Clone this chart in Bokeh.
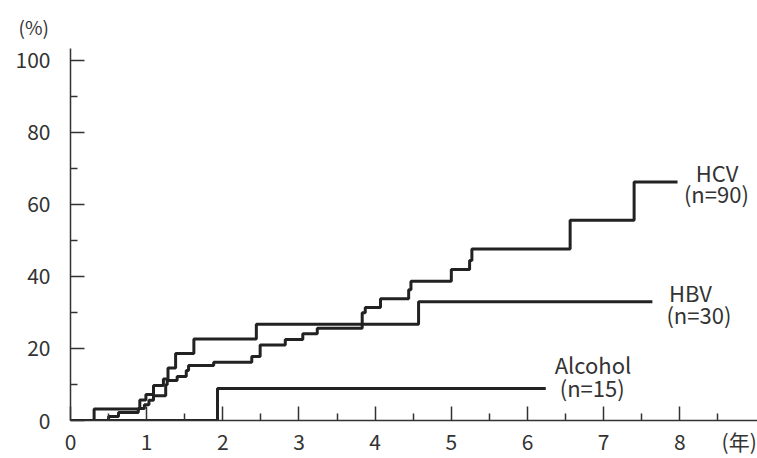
from bokeh.plotting import figure
from bokeh.models import FixedTicker, Label, Range1d, LinearAxis
from bokeh.embed import file_html
from bokeh.resources import INLINE

# ---- data (years, cumulative %) ----
x_ticks = [0, 1, 2, 3, 4, 5, 6, 7, 8]
x_minor = [0.5, 1.5, 2.5, 3.5, 4.5, 5.5, 6.5, 7.5, 8.5]
x_unit_pos = 8.78
x_unit_label = "(年)"
y_ticks = [0, 20, 40, 60, 80, 100]
y_minor = [10, 30, 50, 70, 90]
y_unit_label = "(%)"

hcv_t = [0, 0.50, 0.63, 0.89, 0.97, 1.03, 1.09, 1.25, 1.27, 1.40, 1.52, 1.55, 1.88,
         2.38, 2.49, 2.82, 3.05, 3.24, 3.83, 3.87, 4.07, 4.44, 4.47, 5.00, 5.24,
         5.27, 6.56, 7.40, 7.97]
hcv_y = [0, 1.1, 2.2, 3.3, 4.4, 5.6, 6.9, 9.9, 11.1, 12.2, 13.9, 15.3, 16.2,
         17.8, 21.0, 22.5, 24.1, 25.6, 29.9, 31.4, 33.8, 36.3, 38.7, 41.9, 44.4,
         47.6, 55.6, 66.2, 66.2]

hbv_t = [0, 0.31, 0.91, 0.99, 1.09, 1.22, 1.28, 1.38, 1.62, 2.44, 4.57, 7.64]
hbv_y = [0, 3.2, 5.7, 7.2, 9.7, 11.5, 14.6, 18.6, 22.6, 26.7, 33.0, 33.0]

alc_t = [0, 1.93, 6.24]
alc_y = [0, 8.9, 8.9]

FONT = "Noto Sans CJK JP"
TXT = "#333333"
AX = "#333333"

p = figure(width=757, height=458, output_backend="svg", toolbar_location=None,
           x_range=Range1d(0, 9.02), y_range=Range1d(0, 103.3),
           x_axis_location=None,
           min_border_left=70, min_border_right=0, min_border_top=48,
           min_border_bottom=38)
p.outline_line_color = None
p.grid.visible = False
p.background_fill_color = "white"
p.border_fill_color = "white"

# "(%)" as a left-aligned title shifted over the y tick labels
p.title.text = y_unit_label
p.title.align = "left"
p.title.offset = -52
p.title.standoff = 18
p.title.text_font = FONT
p.title.text_font_size = "19px"
p.title.text_font_style = "normal"
p.title.text_color = TXT

def style_ticks(ax):
    ax.axis_line_color = AX
    ax.axis_line_width = 1.5
    ax.major_tick_line_color = AX
    ax.major_tick_line_width = 1.5
    ax.minor_tick_line_color = AX
    ax.minor_tick_line_width = 1.5
    ax.major_tick_in = 14
    ax.major_tick_out = 0
    ax.minor_tick_in = 7
    ax.minor_tick_out = 0

# y axis
ya = p.yaxis[0]
style_ticks(ya)
ya.ticker = FixedTicker(ticks=y_ticks, minor_ticks=y_minor)
ya.major_label_text_font = FONT
ya.major_label_text_font_size = "21px"
ya.major_label_text_color = TXT
ya.major_label_standoff = 20

# x axis: line + ticks (no labels)
xa = LinearAxis(ticker=FixedTicker(ticks=x_ticks, minor_ticks=x_minor))
style_ticks(xa)
xa.major_label_text_font_size = "0px"
xa.major_label_standoff = 0
xa.major_label_overrides = {t: "" for t in x_ticks}
p.add_layout(xa, "below")

# x axis labels (years + unit)
xl = LinearAxis(ticker=FixedTicker(ticks=x_ticks + [x_unit_pos], minor_ticks=[]))
xl.axis_line_color = None
xl.major_tick_line_color = None
xl.minor_tick_line_color = None
xl.major_tick_in = 0
xl.major_tick_out = 0
xl.minor_tick_in = 0
xl.minor_tick_out = 0
xl.major_label_overrides = {x_unit_pos: x_unit_label}
xl.major_label_text_font = FONT
xl.major_label_text_font_size = "21px"
xl.major_label_text_color = TXT
xl.major_label_standoff = 5
p.add_layout(xl, "below")

for t, y in ((hcv_t, hcv_y), (hbv_t, hbv_y), (alc_t, alc_y)):
    p.step(t, y, mode="after", line_width=3, line_color="#222222")

def lab(x, y, text, size="22px"):
    p.add_layout(Label(x=x, y=y, text=text, text_align="center",
                       text_baseline="middle", text_font=FONT,
                       text_font_size=size, text_color=TXT))

lab(8.49, 68.9, "HCV")
lab(8.48, 63.3, "(n=90)")
lab(8.14, 35.6, "HBV")
lab(8.25, 29.7, "(n=30)")
lab(6.86, 15.7, "Alcohol")
lab(6.85, 9.4, "(n=15)")

open("out.html", "w").write(file_html(p, INLINE))
